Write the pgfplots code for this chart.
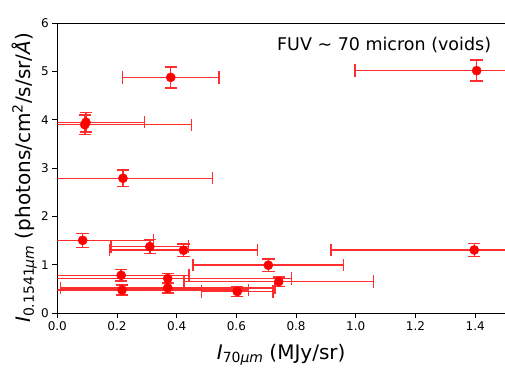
\documentclass[border=0pt]{standalone}
\usepackage{fontspec}
\setmainfont{DejaVu Sans}
\usepackage{pgfplots}
\usepackage{pgfplotstable}
\pgfplotsset{compat=1.18}
\definecolor{errred}{RGB}{255,45,45}

\pgfplotstableread{
x y ex ey
0.380 4880 0.161 220
1.405 5020 0.408 220
0.096 3950 0.196 200
0.092 3900 0.358 205
0.220 2790 0.300 170
0.085 1505 0.238 145
0.310 1375 0.130 145
0.423 1300 0.248 130
1.397 1305 0.480 130
0.707 990 0.252 130
0.214 780 0.227 120
0.370 715 0.414 105
0.742 650 0.317 100
0.217 475 0.424 105
0.370 520 0.360 105
0.603 445 0.120 100
}\datatable

\begin{document}
\begin{tikzpicture}
\begin{axis}[
  at={(0pt,0pt)}, anchor=south west,
  scale only axis, width=447.7pt, height=289.7pt,
  xmin=0, xmax=1.5, ymin=0, ymax=6000,
  xtick={0,0.2,...,1.4},
  ytick={0,1000,...,6000}, yticklabels={0,1,2,3,4,5,6},
  xticklabel style={/pgf/number format/.cd, fixed, fixed zerofill, precision=1},
  /pgf/number format/assume math mode=true,
  tick label style={font=\fontsize{12}{14}\selectfont, text=black},
  tick align=outside, major tick length=5pt,
  xtick pos=left, ytick pos=left,
  minor tick num=0,
  axis line style={black, line width=0.8pt},
  every tick/.style={black, line width=0.8pt},
  xlabel={{\itshape I}\raisebox{-0.35ex}{\fontsize{14}{16}\selectfont 70{\itshape μm}} (MJy/sr)},
  ylabel={{\itshape I}\raisebox{-0.35ex}{\fontsize{14}{16}\selectfont 0.1541{\itshape μm}} (photons/cm\textsuperscript{2}/s/sr/{\itshape Å})},
  label style={font=\fontsize{20}{24}\selectfont},
  xlabel style={at={(axis description cs:0.5,0)}, anchor=base, yshift=-46pt},
  ylabel style={at={(axis description cs:-0.074,0.466)}, anchor=center},
  clip=true,
]
\addplot[only marks, mark=*, mark size=4.6pt, color=red,
  mark options={fill=red, draw=red},
  error bars/.cd, x dir=both, x explicit, y dir=both, y explicit,
  error bar style={line width=1.5pt, draw=errred},
  error mark=-,
  error mark options={rotate=90, line width=1.5pt, mark size=6.2pt, draw=errred}]
  table[x=x, y=y, x error=ex, y error=ey]{\datatable};
\node[anchor=base west, font=\fontsize{12}{14}\selectfont, inner sep=0pt] at (rel axis cs:0,1) [xshift=2pt, yshift=5pt] {×10\textsuperscript{3}};
\node[anchor=center, font=\fontsize{17.5}{21}\selectfont, inner sep=0pt] at (rel axis cs:0.73,0.925) {FUV ∼ 70 micron (voids)};
\end{axis}
\pgfresetboundingbox
\path[use as bounding box] (-57.3pt,-54pt) rectangle (447.7pt,313pt);
\end{tikzpicture}
\end{document}
